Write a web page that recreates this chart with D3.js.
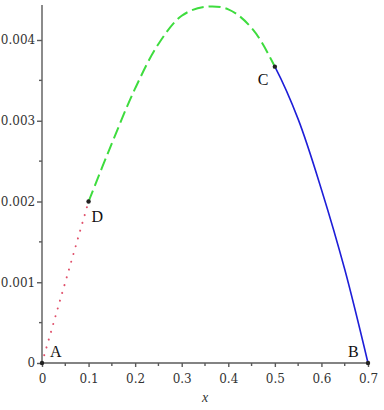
<!DOCTYPE html>
<html>
<head>
<meta charset="utf-8">
<script src="https://cdn.jsdelivr.net/npm/d3@7"></script>
<style>
  body { margin: 0; background: #fff; }
  svg { display: block; }
</style>
</head>
<body>
<div id="chart"></div>
<script>
const width = 384
const height = 410

// data
const xRed = [0, 0.1]
const yRed = [0, 0.002]
const xGreen = [0.1, 0.15, 0.2, 0.25, 0.3, 0.35, 0.4, 0.45, 0.5]
const yGreen = [0.002, 0.00272, 0.0034, 0.00395, 0.0043, 0.00441, 0.00438, 0.00415, 0.00367]
const xBlue = [0.5, 0.55, 0.6, 0.65, 0.7]
const yBlue = [0.00367, 0.00302, 0.00215, 0.00116, 0]
const pointNames = ['A', 'B', 'C', 'D']
const pointX = [0, 0.7, 0.5, 0.1]
const pointY = [0, 0, 0.00367, 0.002]
const xTicks = [0, 0.1, 0.2, 0.3, 0.4, 0.5, 0.6, 0.7]
const yTicks = [0, 0.001, 0.002, 0.003, 0.004]
const xMinor = [0.05, 0.15, 0.25, 0.35, 0.45, 0.55, 0.65]
const yMinor = [0.0005, 0.0015, 0.0025, 0.0035]

const axisColor = '#5a5a5a'
const tickFont = 'DejaVu Serif, Liberation Serif, serif'

const svg = d3.select('#chart').append('svg').attr('width', width).attr('height', height)

const x = d3.scaleLinear().domain([0, 0.7]).range([42, 368])
const y = d3.scaleLinear().domain([0, 0.004]).range([363, 40])
const yTop = 0.00442

// axes
const xAxisGroup = svg.append('g').attr('transform', `translate(0, ${y(0)})`)
xAxisGroup.call(d3.axisBottom(x).tickValues(xTicks).tickSize(4).tickSizeOuter(0)
  .tickFormat(d => d === 0 ? '0' : d3.format('.1f')(d)))
xAxisGroup.append('g').selectAll('line').data(xMinor).enter().append('line')
  .attr('x1', d => x(d)).attr('x2', d => x(d)).attr('y1', 0).attr('y2', 3)

const yAxisGroup = svg.append('g').attr('transform', `translate(${x(0)}, 0)`)
yAxisGroup.call(d3.axisLeft(y).tickValues(yTicks).tickSize(5).tickSizeOuter(0)
  .tickFormat(d => d === 0 ? '0' : d3.format('.3f')(d)))
yAxisGroup.append('g').selectAll('line').data(yMinor).enter().append('line')
  .attr('y1', d => y(d)).attr('y2', d => y(d)).attr('x1', 0).attr('x2', -3)

svg.selectAll('.domain').remove()
svg.append('line').attr('x1', x(0)).attr('x2', x(0.7)).attr('y1', y(0)).attr('y2', y(0))
svg.append('line').attr('x1', x(0)).attr('x2', x(0)).attr('y1', y(0)).attr('y2', y(yTop) - 1)

svg.selectAll('line').attr('stroke', axisColor).attr('stroke-width', 1.4)
svg.selectAll('.tick text')
  .attr('font-family', tickFont)
  .attr('font-size', 12)
  .attr('fill', '#333')
xAxisGroup.selectAll('.tick text').attr('dy', '1.05em')
yAxisGroup.selectAll('.tick text').attr('dx', '0.1em')

svg.append('text')
  .attr('x', (x(0) + x(0.7)) / 2)
  .attr('y', 402)
  .attr('text-anchor', 'middle')
  .attr('font-family', 'Liberation Serif, serif')
  .attr('font-style', 'italic')
  .attr('font-size', 14)
  .attr('fill', '#333')
  .text('x')

// curve pieces: green and blue share one smooth curve, split at C by clipping
const defs = svg.append('defs')
defs.append('clipPath').attr('id', 'clip-green').append('rect')
  .attr('x', 0).attr('y', 0).attr('width', x(0.5)).attr('height', height)
defs.append('clipPath').attr('id', 'clip-blue').append('rect')
  .attr('x', x(0.5)).attr('y', 0).attr('width', width - x(0.5)).attr('height', height)

const line = d3.line().x(d => x(d[0])).y(d => y(d[1])).curve(d3.curveCatmullRom)
const upper = xGreen.map((v, i) => [v, yGreen[i]])
  .concat(xBlue.slice(1).map((v, i) => [v, yBlue[i + 1]]))

svg.append('path')
  .datum(xRed.map((v, i) => [v, yRed[i]]))
  .attr('d', line)
  .attr('fill', 'none')
  .attr('stroke', '#e0506a')
  .attr('stroke-width', 2)
  .attr('stroke-linecap', 'round')
  .attr('stroke-dasharray', '0.1 8')

svg.append('path')
  .datum(upper)
  .attr('d', line)
  .attr('clip-path', 'url(#clip-green)')
  .attr('fill', 'none')
  .attr('stroke', '#3edc3e')
  .attr('stroke-width', 2)
  .attr('stroke-dasharray', '12 5')

svg.append('path')
  .datum(upper)
  .attr('d', line)
  .attr('clip-path', 'url(#clip-blue)')
  .attr('fill', 'none')
  .attr('stroke', '#1e1ed8')
  .attr('stroke-width', 1.6)

// labelled points
const labelOffset = { A: [8, -6], B: [-20, -6], C: [-17, 18], D: [3, 20] }
const points = svg.append('g')
pointNames.forEach((name, i) => {
  points.append('circle')
    .attr('cx', x(pointX[i]))
    .attr('cy', y(pointY[i]))
    .attr('r', 2.2)
    .attr('fill', '#222')
  points.append('text')
    .attr('x', x(pointX[i]) + labelOffset[name][0])
    .attr('y', y(pointY[i]) + labelOffset[name][1])
    .attr('font-family', 'Liberation Serif, serif')
    .attr('font-size', 16)
    .attr('fill', '#111')
    .text(name)
})
</script>
</body>
</html>
